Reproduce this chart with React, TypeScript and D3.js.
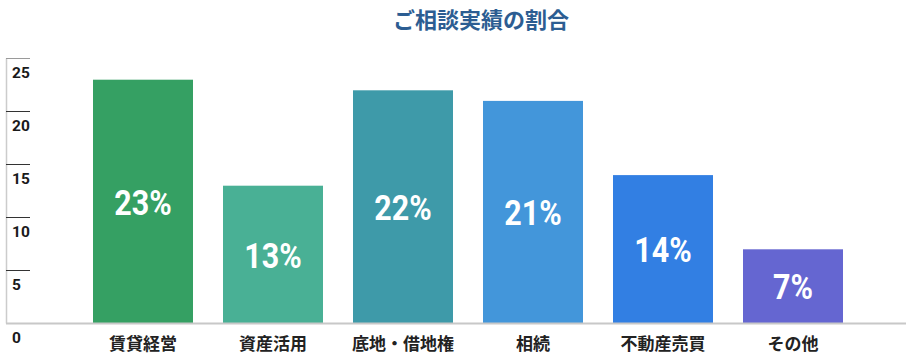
import React from "react";
import * as d3 from "d3";

const categories = ["賃貸経営", "資産活用", "底地・借地権", "相続", "不動産売買", "その他"];
const values = [23, 13, 22, 21, 14, 7];
const barColors = ["#35a063", "#49b095", "#3e9aa9", "#4396da", "#327fe3", "#6566d1"];
const yTicks = [0, 5, 10, 15, 20, 25];
const title = "ご相談実績の割合";

const W = 910;
const H = 360;

export default function App() {
  const x = d3
    .scaleBand<string>()
    .domain(categories)
    .range([78, 858])
    .paddingInner(30 / 130)
    .paddingOuter(15 / 130);

  const y = d3.scaleLinear().domain([0, 25]).range([323.5, 58.5]);

  const cjk = "'Noto Sans CJK JP', 'Noto Sans', sans-serif";
  const num = "Roboto, 'Noto Sans', sans-serif";

  return (
    <svg
      width={W}
      height={H}
      viewBox={`0 0 ${W} ${H}`}
      style={{ position: "absolute", left: 0, top: 0, background: "#fff" }}
    >
      <text
        x={481}
        y={27.5}
        textAnchor="middle"
        fontFamily={cjk}
        fontWeight={700}
        fontSize={22}
        fill="#2c5d92"
      >
        {title}
      </text>

      {/* y axis */}
      <line x1={6.5} x2={6.5} y1={y(25)} y2={y(0)} stroke="#cccccc" strokeWidth={1.5} />
      {yTicks.map((t) => (
        <g key={t}>
          {t > 0 && (
            <line
              x1={6}
              x2={30}
              y1={y(t)}
              y2={y(t)}
              stroke={t === 25 ? "#9a9a9a" : "#333333"}
              strokeWidth={1}
            />
          )}
          <text
            x={12}
            y={y(t) + 19.5}
            fontFamily={num}
            fontWeight={700}
            fontSize={15.5}
            fill="#1a1a1a"
          >
            {t}
          </text>
        </g>
      ))}

      {/* bars */}
      {categories.map((c, i) => {
        const bx = x(c)!;
        const bw = x.bandwidth();
        const top = y(values[i]);
        const base = y(0);
        const cx = bx + bw / 2;
        const cy = (top + base) / 2;
        return (
          <g key={c}>
            <rect x={bx} y={top} width={bw} height={base - top} fill={barColors[i]} />
            <text
              transform={`translate(${cx},${cy + 13}) scale(0.87,1)`}
              textAnchor="middle"
              fontFamily={num}
              fontWeight={700}
              fontSize={35}
              fill="#ffffff"
            >
              {values[i]}%
            </text>
            <text
              x={cx}
              y={350}
              textAnchor="middle"
              fontFamily={cjk}
              fontWeight={700}
              fontSize={17}
              fill="#222222"
            >
              {c}
            </text>
          </g>
        );
      })}

      {/* baseline */}
      <line x1={6} x2={906} y1={y(0)} y2={y(0)} stroke="#c8c8c8" strokeWidth={2} />
    </svg>
  );
}
